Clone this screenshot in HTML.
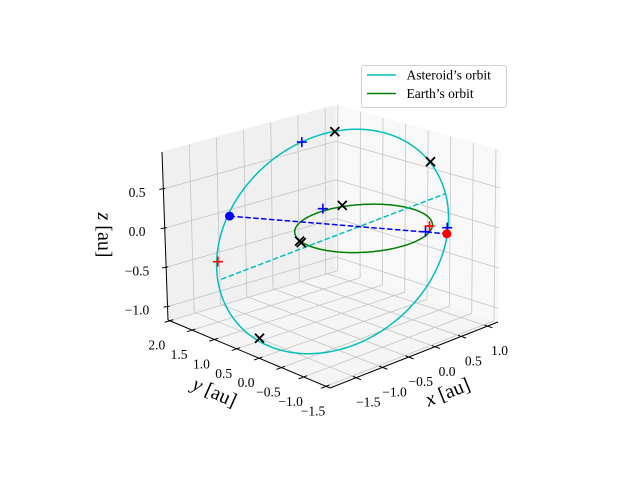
<!DOCTYPE html>
<html><head><meta charset="utf-8"><title>Orbit 3D</title>
<style>
html,body{margin:0;padding:0;background:#fff;}
svg{display:block;font-family:"Liberation Serif",serif;}
</style></head>
<body>
<svg id="chart" width="640" height="480" viewBox="0 0 640 480" xmlns="http://www.w3.org/2000/svg">
<g id="panes"></g>
<g id="grid"></g>
<g id="axes"></g>
<g id="series"></g>
<g id="legend">
  <rect x="361.5" y="65.5" width="145" height="42" rx="2.5" fill="#fff" fill-opacity="0.8" stroke="#d0d0d0" stroke-width="1"/>
  <g>
    <line x1="367" y1="75" x2="396" y2="75" stroke="#00bfbf" stroke-width="1.5"/>
    <text x="406.5" y="79.5" font-size="13.5" fill="#000">Asteroid’s orbit</text>
  </g>
  <g>
    <line x1="367" y1="93.5" x2="396" y2="93.5" stroke="#008000" stroke-width="1.5"/>
    <text x="406.5" y="98" font-size="13.5" fill="#000">Earth’s orbit</text>
  </g>
</g>
</svg>
<script>
// ---- axis limits & ticks ----
const xLim = [-2.0, 1.2];
const yLim = [-1.59, 2.04];
const zLim = [-1.17, 0.97];
const xTicks = [-1.5, -1.0, -0.5, 0.0, 0.5, 1.0];
const yTicks = [-1.5, -1.0, -0.5, 0.0, 0.5, 1.0, 1.5, 2.0];
const zTicks = [-1.0, -0.5, 0.0, 0.5];
const xTickLabels = ["−1.5", "−1.0", "−0.5", "0.0", "0.5", "1.0"];
const yTickLabels = ["−1.5", "−1.0", "−0.5", "0.0", "0.5", "1.0", "1.5", "2.0"];
const zTickLabels = ["−1.0", "−0.5", "0.0", "0.5"];

// ---- data (au) ----
const earthRadius = [1.0];
const asteroidCenter = [-0.59, 0.0, -0.03];
const asteroidAxisP = [2.19, 0.0, -0.39];
const asteroidAxisQ = [0.286, 0.0, 1.35];
const blackX = [[-0.547, 0, 1.35], [1.276, 0, 0.55], [-1.981, 0, -0.935], [0.415, 0.966, 0], [-0.963, 0.30, 0], [-0.99, 0.232, 0]];
const bluePlus = [[-1.175, 0, 1.363], [1.594, 0, -0.358], [0.138, 1.075, 0], [0.511, -0.788, 0]];
const redPlus = [[-2.775, 0, 0.218], [0.701, -0.654, 0]];
const blueDot = [-2.552, 0, 0.743];
const redDot = [1.587, 0, -0.434];
const nodeLine = [[-2.71, 0, -0.02], [1.556, 0, 0.08]];

const NS = "http://www.w3.org/2000/svg";
function mk(tag, attrs, parent) {
  const e = document.createElementNS(NS, tag);
  for (const k in attrs) e.setAttribute(k, attrs[k]);
  parent.appendChild(e);
  return e;
}
const cF = {O: [330, 388], X: [498, 322], Y: [168, 320], XY: [336, 270]};
const cT = {O: [327, 213], X: [500, 150], Y: [162, 152], XY: [336, 105]};
function bil(c, u, v) {
  return [0, 1].map(i => c.O[i]*(1-u)*(1-v) + c.X[i]*u*(1-v) + c.Y[i]*(1-u)*v + c.XY[i]*u*v);
}
function boxP(x, y, z) {
  const u = (x - xLim[0])/(xLim[1]-xLim[0]);
  const v = (y - yLim[0])/(yLim[1]-yLim[0]);
  const w = (z - zLim[0])/(zLim[1]-zLim[0]);
  const f = bil(cF, u, v), t = bil(cT, u, v);
  return [f[0] + (t[0]-f[0])*w, f[1] + (t[1]-f[1])*w];
}
function P(x, y, z) {
  const o = boxP(0, 0, 0);
  return [o[0] + 52.5*x - 44.6*y, o[1] - 18.2*x - 16*y - 79*z];
}
const pts = a => a.map(p => p[0].toFixed(1) + "," + p[1].toFixed(1)).join(" ");

const panes = document.getElementById("panes");
let e;
e = mk("polygon", {points: pts([boxP(xLim[0],yLim[0],zLim[0]), boxP(xLim[1],yLim[0],zLim[0]), boxP(xLim[1],yLim[1],zLim[0]), boxP(xLim[0],yLim[1],zLim[0])]), fill: "#f5f5f5", stroke: "#f5f5f5"}, panes);


e = mk("polygon", {points: pts([boxP(xLim[0],yLim[1],zLim[0]), boxP(xLim[1],yLim[1],zLim[0]), boxP(xLim[1],yLim[1],zLim[1]), boxP(xLim[0],yLim[1],zLim[1])]), fill: "#f0f0f0", stroke: "#f0f0f0"}, panes);


e = mk("polygon", {points: pts([boxP(xLim[1],yLim[0],zLim[0]), boxP(xLim[1],yLim[1],zLim[0]), boxP(xLim[1],yLim[1],zLim[1]), boxP(xLim[1],yLim[0],zLim[1])]), fill: "#f8f8f8", stroke: "#f8f8f8"}, panes);



const grid = document.getElementById("grid");
function gl(a, b, name) {
  const l = mk("line", {x1: a[0], y1: a[1], x2: b[0], y2: b[1], stroke: "#c4c4c4", "stroke-width": 0.8}, grid);
  
  
}
xTicks.forEach(x => {
  gl(boxP(x, yLim[0], zLim[0]), boxP(x, yLim[1], zLim[0]), 'grid-x-floor');
  gl(boxP(x, yLim[1], zLim[0]), boxP(x, yLim[1], zLim[1]), 'grid-x-wall');
});
yTicks.forEach(y => {
  gl(boxP(xLim[0], y, zLim[0]), boxP(xLim[1], y, zLim[0]), 'grid-y-floor');
  gl(boxP(xLim[1], y, zLim[0]), boxP(xLim[1], y, zLim[1]), 'grid-y-wall');
});
zTicks.forEach(z => {
  gl(boxP(xLim[0], yLim[1], z), boxP(xLim[1], yLim[1], z), 'grid-z-left');
  gl(boxP(xLim[1], yLim[0], z), boxP(xLim[1], yLim[1], z), 'grid-z-right');
});

const axes = document.getElementById("axes");
function al(a, b, name, w) {
  const l = mk("line", {x1: a[0], y1: a[1], x2: b[0], y2: b[1], stroke: "#000", "stroke-width": w}, axes);
  
  
}
function tx(x, y, s, size, name, rot) {
  const t = mk("text", {x: x, y: y, "font-size": size, "text-anchor": "middle", fill: "#000"}, axes);
  if (rot) t.setAttribute("transform", "rotate(" + rot + " " + x + " " + y + ")");
  t.textContent = s;
  
  
  return t;
}
al(boxP(xLim[0], yLim[0], zLim[0]), boxP(xLim[1], yLim[0], zLim[0]), 'x-axis-line', 1);
al(boxP(xLim[0], yLim[0], zLim[0]), boxP(xLim[0], yLim[1], zLim[0]), 'y-axis-line', 1);
al(boxP(xLim[0], yLim[1], zLim[0]), boxP(xLim[0], yLim[1], zLim[1]), 'z-axis-line', 1);
const yr = yLim[1]-yLim[0], xr = xLim[1]-xLim[0];
xTicks.forEach((x, i) => {
  const a = boxP(x, yLim[0] + 0.02*yr, zLim[0]), b = boxP(x, yLim[0] - 0.03*yr, zLim[0]);
  al(a, b, 'x-tick', 1);
  const c = boxP(x, yLim[0], zLim[0]);
  tx(c[0] + 12, c[1] + 29, xTickLabels[i], 13.5, 'x-tick-label');
});
yTicks.forEach((y, i) => {
  const a = boxP(xLim[0] + 0.02*xr, y, zLim[0]), b = boxP(xLim[0] - 0.03*xr, y, zLim[0]);
  al(a, b, 'y-tick', 1);
  const c = boxP(xLim[0], y, zLim[0]);
  tx(c[0] - 13, c[1] + 29, yTickLabels[i], 13.5, 'y-tick-label');
});
zTicks.forEach((z, i) => {
  const c = boxP(xLim[0], yLim[1], z);
  al([c[0] - 4, c[1] + 0.5], [c[0] + 2, c[1] - 0.5], 'z-tick', 1);
  tx(137, c[1] + 8, zTickLabels[i], 13.5, 'z-tick-label');
});
const xt = tx(450, 398, "", 20, 'x-axis-title', -22);
xt.innerHTML = '<tspan font-style="italic">x</tspan> [au]';
const yt = tx(212, 398, "", 20, 'y-axis-title', 24);
yt.innerHTML = '<tspan font-style="italic">y</tspan> [au]';
const zt = tx(98, 235, "", 20, 'z-axis-title', 90);
zt.innerHTML = '<tspan font-style="italic">z</tspan> [au]';

const series = document.getElementById("series");
const ast = [];
for (let k = 0; k <= 240; k++) {
  const t = 2*Math.PI*k/240;
  ast.push(P(asteroidCenter[0] + asteroidAxisP[0]*Math.cos(t) + asteroidAxisQ[0]*Math.sin(t),
             asteroidCenter[1] + asteroidAxisP[1]*Math.cos(t) + asteroidAxisQ[1]*Math.sin(t),
             asteroidCenter[2] + asteroidAxisP[2]*Math.cos(t) + asteroidAxisQ[2]*Math.sin(t)));
}
e = mk("polyline", {points: pts(ast), fill: "none", stroke: "#00bfbf", "stroke-width": 1.5}, series);


const ear = [];
for (let k = 0; k <= 180; k++) {
  const t = 2*Math.PI*k/180;
  ear.push(P(earthRadius[0]*Math.cos(t), earthRadius[0]*Math.sin(t), 0));
}
e = mk("polyline", {points: pts(ear), fill: "none", stroke: "#008000", "stroke-width": 1.5}, series);


const n0 = P(...nodeLine[0]), n1 = P(...nodeLine[1]);
e = mk("line", {x1: n0[0], y1: n0[1], x2: n1[0], y2: n1[1], stroke: "#00bfbf", "stroke-width": 1.5, "stroke-dasharray": "5.5,2.4"}, series);


const b0 = P(...blueDot), r0 = P(...redDot);
e = mk("line", {x1: b0[0], y1: b0[1], x2: r0[0], y2: r0[1], stroke: "#0000ff", "stroke-width": 1.5, "stroke-dasharray": "5.5,2.4"}, series);


function plus(p, color, name) {
  const s = P(...p), d = 5;
  const g = mk("path", {d: `M${s[0]-d},${s[1]}H${s[0]+d}M${s[0]},${s[1]-d}V${s[1]+d}`, stroke: color, "stroke-width": 1.6, fill: "none"}, series);
  
  
}
function cross(p, name) {
  const s = P(...p), d = 4.5;
  const g = mk("path", {d: `M${s[0]-d},${s[1]-d}L${s[0]+d},${s[1]+d}M${s[0]-d},${s[1]+d}L${s[0]+d},${s[1]-d}`, stroke: "#000", "stroke-width": 1.8, fill: "none"}, series);
  
  
}
bluePlus.forEach(p => plus(p, "#0000ff", 'blue-plus-marker'));
redPlus.forEach(p => plus(p, "#ff0000", 'red-plus-marker'));
blackX.forEach(p => cross(p, 'black-x-marker'));
e = mk("circle", {cx: b0[0], cy: b0[1], r: 4.5, fill: "#0000ff"}, series);


e = mk("circle", {cx: r0[0], cy: r0[1], r: 4.5, fill: "#ff0000"}, series);


</script>
</body></html>
